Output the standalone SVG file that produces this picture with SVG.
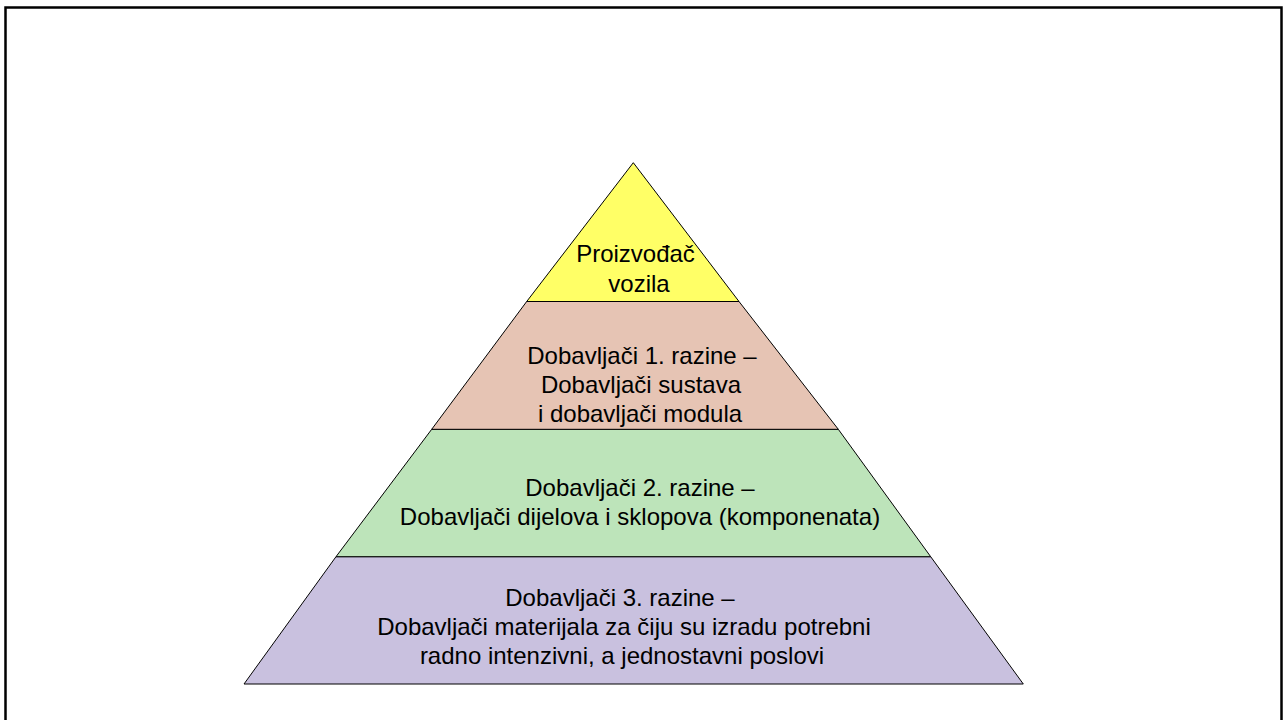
<svg xmlns="http://www.w3.org/2000/svg" width="1283" height="720" viewBox="0 0 1283 720">
<style>
.lyr{stroke:#000;stroke-width:1;stroke-linejoin:miter}
.t{font-family:"Liberation Sans",Arial,sans-serif;font-size:24px;fill:#000;text-anchor:middle}
</style>
<rect x="0" y="0" width="1283" height="720" fill="#fff"/>
<rect id="frame" x="5.5" y="7.5" width="1276" height="730" fill="none" stroke="#000" stroke-width="2.5"/>
<g id="connectors"></g>
<g id="level4">
<polygon class="lyr" fill="#C9C1DF" points="336,556.7 930.7,556.7 1023.3,684 244,684"/>
<text class="t" x="620" y="606">Dobavljači 3. razine –</text>
<text class="t" x="624" y="635">Dobavljači materijala za čiju su izradu potrebni</text>
<text class="t" x="622" y="664">radno intenzivni, a jednostavni poslovi</text>
</g>
<g id="level3">
<polygon class="lyr" fill="#BDE4BA" points="431.7,429.3 838.3,429.3 930.7,556.7 336,556.7"/>
<text class="t" x="640" y="496">Dobavljači 2. razine –</text>
<text class="t" x="640" y="525">Dobavljači dijelova i sklopova (komponenata)</text>
</g>
<g id="level2">
<polygon class="lyr" fill="#E6C4B4" points="526.7,301.5 739,301.5 838.3,429.3 431.7,429.3"/>
<text class="t" x="642" y="364">Dobavljači 1. razine –</text>
<text class="t" x="641" y="393">Dobavljači sustava</text>
<text class="t" x="640" y="421.5">i dobavljači modula</text>
</g>
<g id="level1">
<polygon class="lyr" fill="#FFFF66" points="633.3,162.7 739,301.5 526.7,301.5"/>
<text class="t" x="635.5" y="262">Proizvođač</text>
<text class="t" x="639" y="291.5">vozila</text>
</g>
</svg>
